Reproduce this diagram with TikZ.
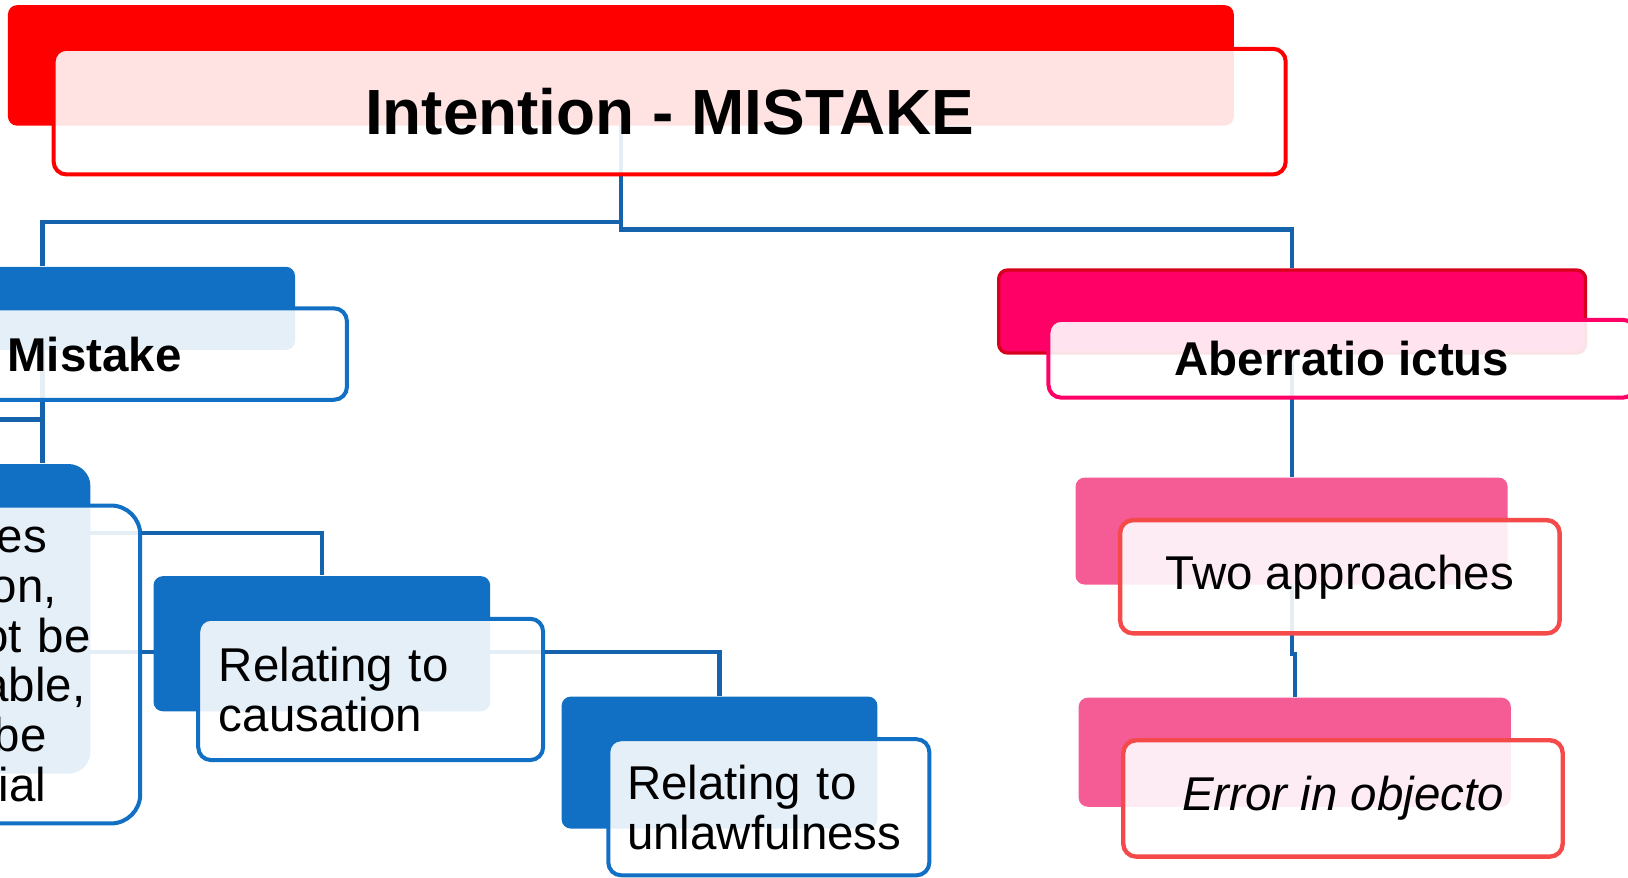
\documentclass[tikz,border=0pt]{standalone}
\usepackage{fontspec}
\setmainfont{Liberation Sans}
\usetikzlibrary{backgrounds}
\definecolor{mistred}{HTML}{FF0000}
\definecolor{mistblue}{HTML}{1170C4}
\definecolor{connblue}{HTML}{1562AD}
\definecolor{aberpink}{HTML}{FF0066}
\definecolor{aberedge}{HTML}{D6001C}
\definecolor{softpink}{HTML}{F55B95}
\definecolor{coral}{HTML}{F44A4A}
\tikzset{backbox/.style={rounded corners=2.5pt, inner sep=0pt, fill=#1}}
\tikzset{frontbox/.style={rounded corners=3.5pt, inner sep=0pt, draw=#1, line width=1.1pt, fill=white, fill opacity=0.89, text opacity=1, font=\fontsize{13}{13.6}\selectfont}}
\tikzset{conn/.style={draw=connblue, line width=1.15pt}}

\begin{document}
\begin{tikzpicture}[x=0.01cm, y=-0.01cm]
		\useasboundingbox (0,0) rectangle (1568,845);
		
		% top
		\node[backbox=mistred, minimum width=11.8cm, minimum height=1.16cm] (mainback) at (598,63){};
		\node[frontbox=mistred, minimum width=11.86cm, minimum height=1.21cm, font=\bfseries\fontsize{17.5}{21}\selectfont] (main) at (645,107.5){Intention - MISTAKE};
		
		% left branch
		\node[backbox=mistblue, minimum width=4.86cm, minimum height=0.8cm] (mistakeback) at (41,297){};
		\node[frontbox=mistblue, minimum width=4.86cm, minimum height=0.88cm, font=\bfseries\fontsize{13}{15}\selectfont] (mistake) at (91,341){Mistake};
		
		\node[backbox=mistblue, rounded corners=6pt, minimum width=1.47cm, minimum height=2.98cm] (lowback) at (13.5,596){};
		\node[frontbox=mistblue, rounded corners=8pt, text width=1.29cm, inner xsep=0.23cm, align=left, minimum height=3.06cm] (low) at (47.5,640){\hspace*{0.14cm}es\\ \hspace*{0.08cm}on,\\ ot be\\ able,\\ \hspace*{0.11cm}be\\ \hspace*{0.16cm}ial};
		
		\node[backbox=mistblue, minimum width=3.24cm, minimum height=1.3cm] (causeback) at (310,620){};
		\node[frontbox=mistblue, text width=2.92cm, inner xsep=0.2cm, align=left, minimum height=1.36cm] (cause) at (357,664){Relating to\\ causation};
		
		\node[backbox=mistblue, minimum width=3.04cm, minimum height=1.27cm] (lawback) at (693,734.5){};
		\node[frontbox=mistblue, text width=2.73cm, inner xsep=0.18cm, align=left, minimum height=1.31cm] (law) at (740.5,777.5){Relating to\\ unlawfulness};
		
		% right branch
		\node[backbox=aberpink, draw=aberedge, line width=0.9pt, minimum width=5.65cm, minimum height=0.8cm] (aberback) at (1244.5,300){};
		\node[frontbox=aberpink, minimum width=5.65cm, minimum height=0.75cm, font=\bfseries\fontsize{13}{15}\selectfont] (aber) at (1292.5,345.5){Aberratio ictus};
		
		\node[backbox=softpink, minimum width=4.16cm, minimum height=1.03cm] (twoback) at (1244,511.5){};
		\node[frontbox=coral, line width=1.2pt, minimum width=4.23cm, minimum height=1.09cm] (two) at (1290.5,555.5){Two approaches};
		
		\node[backbox=softpink, minimum width=4.16cm, minimum height=1.05cm] (errback) at (1247,724.5){};
		\node[frontbox=coral, line width=1.2pt, minimum width=4.23cm, minimum height=1.12cm] (err) at (1293.5,769){\itshape Error in objecto};
		
		\coordinate (trunkleft) at (-20,404);
		\coordinate (lowout1) at (60,513);
		\coordinate (lowout2) at (60,628);
		
		\begin{scope}[on background layer]
			\draw[conn] (mainback.center) -- ++(0,151) -| (mistakeback.north);
			\draw[conn] (mainback.center) -- ++(0,158) -| (aberback.north);
			\draw[conn] (mistakeback.center) -- (mistakeback.center |- lowback.north);
			\draw[conn] (mistakeback.center |- trunkleft) -- (trunkleft);
			\draw[conn] (lowout1) -| (causeback.north);
			\draw[conn] (lowout2) -| (lawback.north);
			\draw[conn] (aberback.center) -- (aberback.center |- twoback.north);
			\draw[conn] (twoback.center) -- ++(0,118.5) -| (errback.north);
		\end{scope}
	\end{tikzpicture}
\end{document}
